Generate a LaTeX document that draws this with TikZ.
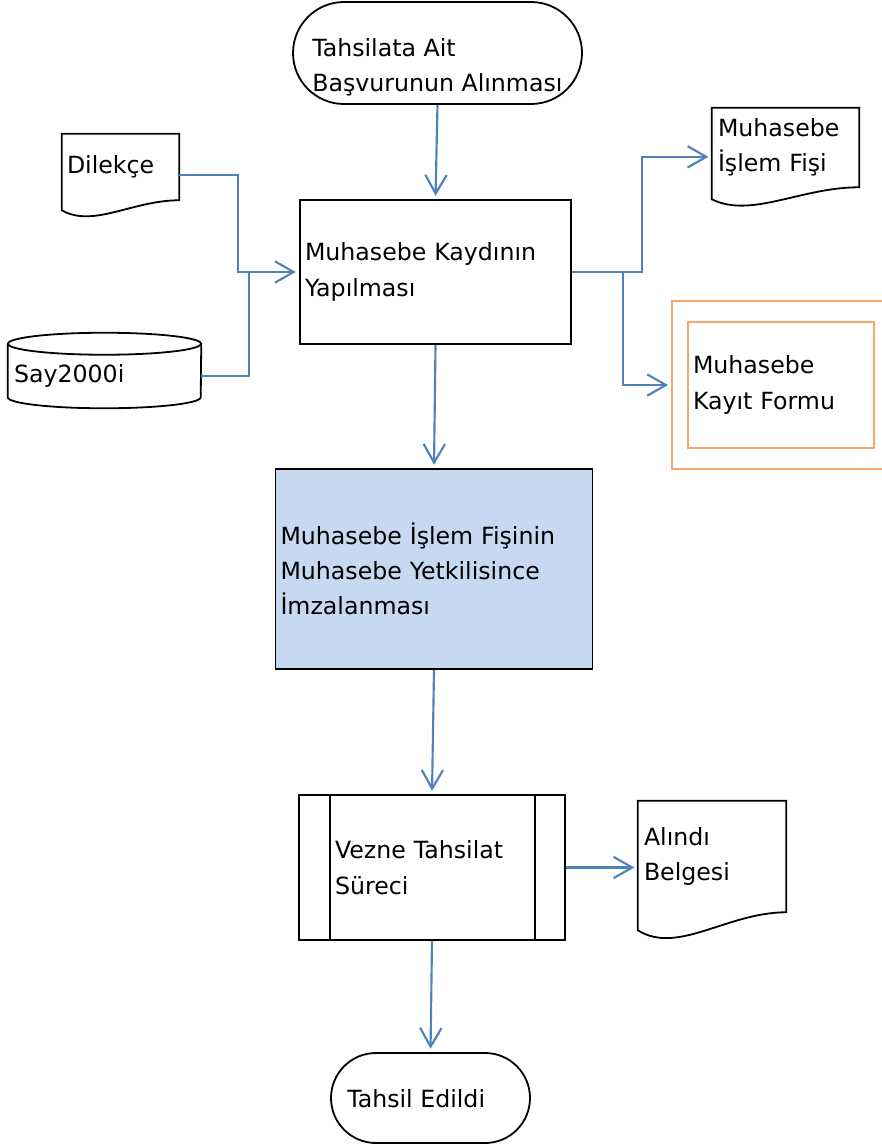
\documentclass[tikz,border=0pt]{standalone}
\usepackage{fontspec}
\setmainfont{DejaVu Sans}
\usetikzlibrary{arrows.meta,shapes.misc,calc}
\definecolor{lnblue}{HTML}{4F81BD}
\definecolor{fillblue}{HTML}{C6D9F1}
\definecolor{orng}{HTML}{F8A46A}
\begin{document}
\begin{tikzpicture}[x=0.75pt,y=-0.75pt,
  font=\fontsize{17.75pt}{26.5pt}\selectfont,
  outline/.style={draw=black,line width=1.35pt},
  box/.style={outline,rectangle,align=left,inner ysep=0pt},
  ghost/.style={rectangle,align=left,inner ysep=0pt},
  term/.style={outline,rounded rectangle,inner sep=0pt},
  lbl/.style={anchor=west,align=left,inner sep=0pt},
  wire/.style={draw=lnblue,line width=1.6pt},
  conn/.style={wire,-{Straight Barb[length=14pt,width=16pt,line width=1.6pt]},shorten >=2.5pt},
  obox/.style={draw=orng,line width=0.9pt,rectangle,align=left,inner ysep=0pt}
]
\clip (0,0) rectangle (882,1147);
\fill[white] (0,0) rectangle (882,1147);

% start terminator
\node[term,minimum width=216.75pt,minimum height=76.5pt] (start) at (437.5,53) {};
\node[lbl] (starttxt) at (312,67) {Tahsilata Ait\\Başvurunun Alınması};

% process 1
\node[box,minimum height=108pt,text width=195.75pt,inner xsep=3.75pt] (proc) at (435.5,272)
  {Muhasebe Kaydının\\Yapılması};

% Dilekçe document
\node[ghost,minimum height=49.5pt,text width=80.25pt,inner xsep=3.75pt] (dil) at (120.5,167) {Dilekçe};
\draw[outline] (dil.north west) -- (dil.north east) -- (dil.south east)
  .. controls +(-46.8,0) and +(31.6,18) .. ($(dil.south west)+(0,10)$) -- cycle;

% Say2000i database
\node[ghost,minimum height=48pt,text width=135.75pt,inner xsep=4.5pt] (db) at (104.5,376) {Say2000i};
\draw[outline] (db.north) ellipse [x radius=72.375pt,y radius=8.25pt];
\draw[outline] (db.north west) -- ($(db.south west)+(0,-11)$)
  arc[start angle=180,end angle=360,x radius=72.375pt,y radius=8.25pt]
  -- (db.north east);

% Muhasebe İşlem Fişi document
\node[ghost,minimum height=59.25pt,text width=101.25pt,inner xsep=4.5pt] (fisi) at (785.5,147.5)
  {Muhasebe\\İşlem Fişi};
\draw[outline] (fisi.north west) -- (fisi.north east) -- (fisi.south east)
  .. controls +(-58.8,0) and +(39.7,19.5) .. ($(fisi.south west)+(0,12)$) -- cycle;

% Muhasebe Kayıt Formu (double orange frame)
\node[obox,minimum width=168pt,minimum height=126pt] (formout) at (784,385) {};
\node[obox,minimum height=94.5pt,text width=132pt,inner xsep=3.75pt] (form) at (781,385)
  {Muhasebe\\Kayıt Formu};

% signing box
\node[box,fill=fillblue,minimum height=150pt,text width=230.25pt,inner xsep=3.75pt] (sign) at (434,569)
  {Muhasebe İşlem Fişinin\\Muhasebe Yetkilisince\\İmzalanması};

% predefined process
\node[box,minimum height=108.75pt,text width=145.5pt,inner xsep=27pt] (vez) at (432,867.5)
  {Vezne Tahsilat\\Süreci};
\draw[outline] ($(vez.north west)+(32,0)$) -- ($(vez.south west)+(32,0)$);
\draw[outline] ($(vez.north east)+(-31,0)$) -- ($(vez.south east)+(-31,0)$);

% Alındı Belgesi document
\node[ghost,minimum height=83.25pt,text width=102pt,inner xsep=4.5pt] (alindi) at (712,856.5)
  {Alındı\\Belgesi};
\draw[outline] (alindi.north west) -- (alindi.north east) -- (alindi.south east)
  .. controls +(-59.2,0) and +(40,25) .. ($(alindi.south west)+(0,18)$) -- cycle;

% end terminator
\node[term,minimum width=149.25pt,minimum height=67.5pt] (end) at (430.5,1098) {};
\node[lbl] (endtxt) at (347,1099) {Tahsil Edildi};

% connectors
\draw[conn] (start.south) -- (proc.north);
\draw[conn] ([yshift=-6pt]dil.east) -| ($(proc.west)+(-61,0)$) -- (proc.west);
\draw[wire] (db.east) -| ($(proc.west)+(-50,0)$);
\coordinate (split) at ($(proc.east)+(51,0)$);
\draw[conn] (proc.east) -| ($(proc.east)+(70,0)$) |- ([yshift=-7pt]fisi.west);
\draw[conn] (split) |- (formout.west);
\draw[conn] (proc.south) -- (sign.north);
\draw[conn] (sign.south) -- (vez.north);
\draw[conn] (vez.east) -- (vez.east -| alindi.west);
\draw[conn] (vez.south) -- (end.north);
\end{tikzpicture}
\end{document}
